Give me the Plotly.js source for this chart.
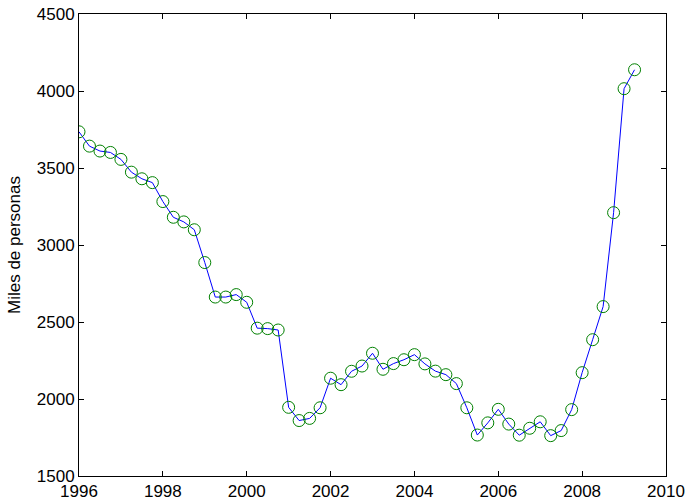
<!DOCTYPE html>
<html>
<head>
<meta charset="utf-8">
<script src="https://cdn.plot.ly/plotly-3.0.1.min.js"></script>
<style>html,body{margin:0;padding:0;background:#fff;}#chart{width:688px;height:501px;}</style>
</head>
<body>
<div id="chart"></div>
<script>
var quarters = [1996.00,1996.25,1996.50,1996.75,1997.00,1997.25,1997.50,1997.75,
  1998.00,1998.25,1998.50,1998.75,1999.00,1999.25,1999.50,1999.75,
  2000.00,2000.25,2000.50,2000.75,2001.00,2001.25,2001.50,2001.75,
  2002.00,2002.25,2002.50,2002.75,2003.00,2003.25,2003.50,2003.75,
  2004.00,2004.25,2004.50,2004.75,2005.00,2005.25,2005.50,2005.75,
  2006.00,2006.25,2006.50,2006.75,2007.00,2007.25,2007.50,2007.75,
  2008.00,2008.25,2008.50,2008.75,2009.00,2009.25];
var parados = [3735,3642,3610,3601,3556,3473,3430,3405,
  3282,3180,3150,3099,2886,2662,2662,2678,
  2628,2460,2457,2448,1946,1860,1874,1943,
  2135,2093,2180,2214,2297,2193,2230,2255,
  2288,2228,2181,2158,2100,1943,1766,1845,
  1933,1837,1765,1810,1852,1762,1795,1931,
  2171,2385,2600,3210,4015,4138];
var xTicks = [1996,1998,2000,2002,2004,2006,2008,2010];
var yTicks = [1500,2000,2500,3000,3500,4000,4500];
var yLabel = "Miles de personas";

var fontFam = "Liberation Sans, Arial, Helvetica, sans-serif";
var traces = [
  {x: quarters, y: parados, type: 'scatter', mode: 'lines',
   line: {color: 'rgb(0,0,255)', width: 1}, hoverinfo: 'skip'},
  {x: quarters, y: parados, type: 'scatter', mode: 'markers',
   marker: {symbol: 'circle-open', size: 12, color: 'rgb(0,128,0)', line: {width: 1, color: 'rgb(0,128,0)'}}}
];
var axisCommon = {
  showgrid: false, zeroline: false, showline: true, linecolor: '#000', linewidth: 1,
  mirror: 'ticks', ticks: 'inside', ticklen: 5, tickcolor: '#000', tickwidth: 1,
  tickfont: {family: fontFam, size: 17, color: '#000'}, automargin: false
};
var layout = {
  width: 688, height: 501, showlegend: false,
  paper_bgcolor: '#fff', plot_bgcolor: '#fff',
  margin: {l: 79, r: 22, t: 14, b: 25},
  font: {family: fontFam, size: 17, color: '#000'},
  xaxis: Object.assign({}, axisCommon, {range: [1996, 2010], tickmode: 'array', tickvals: xTicks, ticktext: xTicks.map(String)}),
  yaxis: Object.assign({}, axisCommon, {range: [1500, 4500], tickmode: 'array', tickvals: yTicks, ticktext: yTicks.map(String),
    title: {text: yLabel, standoff: 11, font: {family: fontFam, size: 17, color: '#000'}}})
};
Plotly.newPlot('chart', traces, layout, {staticPlot: true});
</script>
</body>
</html>
